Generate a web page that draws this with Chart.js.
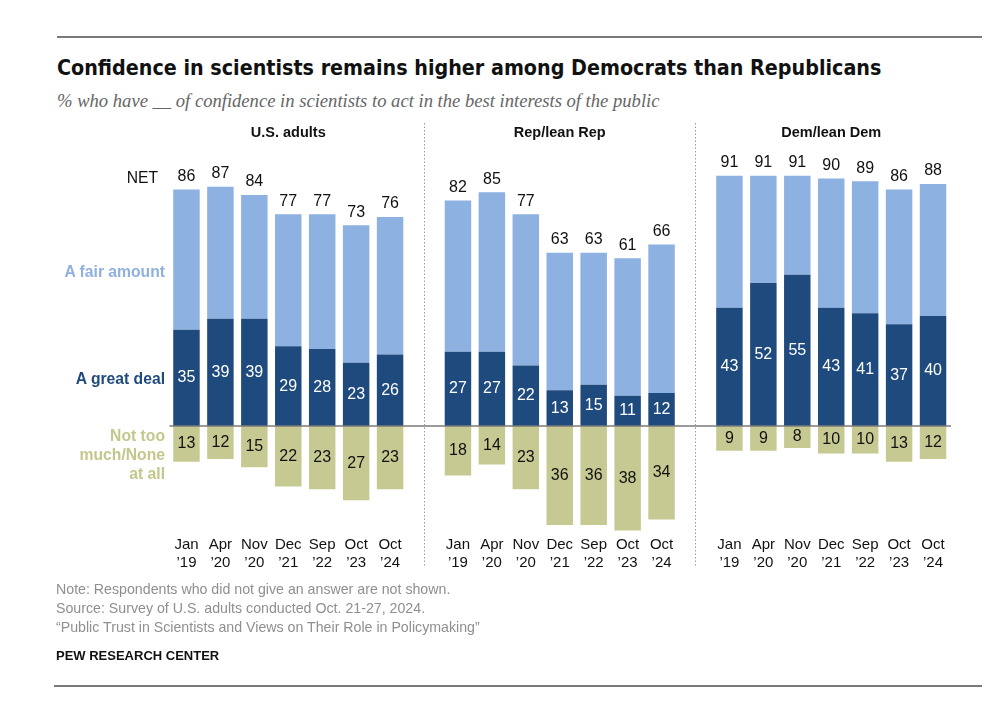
<!DOCTYPE html>
<html>
<head>
<meta charset="utf-8">
<script src="https://cdn.jsdelivr.net/npm/chart.js@4.4.1/dist/chart.umd.min.js"></script>
<style>
  html, body { margin:0; padding:0; background:#fff; }
  body { width:1000px; height:717px; position:relative; overflow:hidden; font-family:"Liberation Sans", Arial, sans-serif; }
  #wrap { position:absolute; left:0; top:0; width:1000px; height:717px; }
  .rule { position:absolute; height:2px; background:#7a7a7a; }
  .title { position:absolute; left:57px; top:55px; font-family:"Liberation Sans Narrow","DejaVu Sans Condensed","Liberation Sans",sans-serif; font-weight:bold; font-size:21.3px; color:#111; white-space:nowrap; }
  .subtitle { position:absolute; left:57px; top:90px; font-family:"Liberation Serif","DejaVu Serif",serif; font-style:italic; font-size:18.6px; color:#666; white-space:nowrap; }
  .rowlab { position:absolute; right:835px; font-size:15.7px; white-space:nowrap; text-align:right; line-height:19px; }
  .note { position:absolute; left:56px; font-size:14.2px; color:#8f8f8f; white-space:nowrap; }
  .pew { position:absolute; left:56px; top:648px; font-size:13px; font-weight:bold; color:#111; }
</style>
</head>
<body>
<div class="rule" style="left:57px; top:36px; width:925px;"></div>
<div class="title">Confidence in scientists remains higher among Democrats than Republicans</div>
<div class="subtitle">% who have __ of confidence in scientists to act in the best interests of the public</div>

<div id="wrap"><canvas id="c" width="1000" height="717"></canvas></div>

<div class="rowlab" style="top:168px; color:#111; right:842px;">NET</div>
<div class="rowlab" style="top:262px; color:#8fb0e0; font-weight:bold;">A fair amount</div>
<div class="rowlab" style="top:369px; color:#1f4a7e; font-weight:bold;">A great deal</div>
<div class="rowlab" style="top:426px; color:#c3c78c; font-weight:bold;">Not too<br>much/None<br>at all</div>

<div class="note" style="top:581px;">Note: Respondents who did not give an answer are not shown.</div>
<div class="note" style="top:600px;">Source: Survey of U.S. adults conducted Oct. 21-27, 2024.</div>
<div class="note" style="top:619px;">“Public Trust in Scientists and Views on Their Role in Policymaking”</div>
<div class="pew">PEW RESEARCH CENTER</div>
<div class="rule" style="left:54px; top:685px; width:928px;"></div>

<script>
// ---- data ----
const panels = ['U.S. adults', 'Rep/lean Rep', 'Dem/lean Dem'];
const periods = [['Jan', '’19'], ['Apr', '’20'], ['Nov', '’20'], ['Dec', '’21'], ['Sep', '’22'], ['Oct', '’23'], ['Oct', '’24']];

const netUS  = [86, 87, 84, 77, 77, 73, 76];
const netRep = [82, 85, 77, 63, 63, 61, 66];
const netDem = [91, 91, 91, 90, 89, 86, 88];

const greatUS  = [35, 39, 39, 29, 28, 23, 26];
const greatRep = [27, 27, 22, 13, 15, 11, 12];
const greatDem = [43, 52, 55, 43, 41, 37, 40];

const notUS  = [13, 12, 15, 22, 23, 27, 23];
const notRep = [18, 14, 23, 36, 36, 38, 34];
const notDem = [9, 9, 8, 10, 10, 13, 12];

// ---- build combined series (one empty slot between panels) ----
function join(a, b, c) { return [...a, null, ...b, null, ...c]; }
const labels = join(periods, periods, periods).map(p => p === null ? '' : p);
const net = join(netUS, netRep, netDem);
const great = join(greatUS, greatRep, greatDem);
const fair = net.map((v, i) => v === null ? null : v - great[i]);
const notMuch = join(notUS, notRep, notDem).map(v => v === null ? null : -v);
const gapIdx = [7, 15];
const panelCenterIdx = [3, 11, 19];

const C_GREAT = '#1f4a7e', C_FAIR = '#8db1e1', C_NOT = '#c6ca92';
const FONT = '"Liberation Sans", Arial, sans-serif';

const overlay = {
  id: 'overlay',
  afterDatasetsDraw(chart) {
    const ctx = chart.ctx, xs = chart.scales.x, ys = chart.scales.y, ca = chart.chartArea;
    ctx.save();
    // zero line
    const y0 = ys.getPixelForValue(0);
    ctx.strokeStyle = '#7a7a7a'; ctx.lineWidth = 1.5;
    ctx.beginPath(); ctx.moveTo(ca.left, y0); ctx.lineTo(ca.right + 1, y0); ctx.stroke();
    // separators
    ctx.strokeStyle = '#9a9a9a'; ctx.lineWidth = 1; ctx.setLineDash([1.5, 2]);
    gapIdx.forEach(i => {
      const x = Math.round(xs.getPixelForValue(i)) + 0.5;
      ctx.beginPath(); ctx.moveTo(x, 123); ctx.lineTo(x, 567); ctx.stroke();
    });
    ctx.setLineDash([]);
    // panel titles
    ctx.fillStyle = '#111'; ctx.font = 'bold 14.5px ' + FONT;
    ctx.textAlign = 'center'; ctx.textBaseline = 'middle';
    panels.forEach((p, k) => ctx.fillText(p, xs.getPixelForValue(panelCenterIdx[k]), 133));
    // value labels
    ctx.font = '16px ' + FONT;
    const mG = chart.getDatasetMeta(0), mF = chart.getDatasetMeta(1), mN = chart.getDatasetMeta(2);
    mG.data.forEach((el, i) => {
      if (great[i] === null) return;
      ctx.fillStyle = '#ffffff';
      ctx.fillText(String(great[i]), el.x, (el.y + el.base) / 2);
    });
    mF.data.forEach((el, i) => {
      if (net[i] === null) return;
      ctx.fillStyle = '#111';
      ctx.fillText(String(net[i]), el.x, el.y - 13);
    });
    mN.data.forEach((el, i) => {
      if (notMuch[i] === null) return;
      ctx.fillStyle = '#111';
      ctx.fillText(String(-notMuch[i]), el.x, (el.y + el.base) / 2);
    });
    ctx.restore();
  }
};

new Chart(document.getElementById('c'), {
  type: 'bar',
  data: {
    labels,
    datasets: [
      { label: 'A great deal', data: great, backgroundColor: C_GREAT, stack: 's' },
      { label: 'A fair amount', data: fair, backgroundColor: C_FAIR, stack: 's' },
      { label: 'Not too much/None at all', data: notMuch, backgroundColor: C_NOT, stack: 's' }
    ]
  },
  options: {
    responsive: false,
    animation: false,
    devicePixelRatio: 1,
    layout: { padding: { left: 169.5, right: 50, top: 151, bottom: 141 } },
    datasets: { bar: { categoryPercentage: 1, barPercentage: 0.78, borderWidth: 0 } },
    plugins: { legend: { display: false }, tooltip: { enabled: false } },
    scales: {
      x: {
        stacked: true,
        grid: { display: false, drawTicks: false },
        border: { display: false },
        ticks: { autoSkip: false, maxRotation: 0, color: '#111', padding: 0,
                 font: { family: FONT, size: 15, lineHeight: 1.2 } },
        afterFit(scale) { scale.height = 40; }
      },
      y: { stacked: true, display: false, min: -40, max: 100 }
    }
  },
  plugins: [overlay]
});
</script>
</body>
</html>
